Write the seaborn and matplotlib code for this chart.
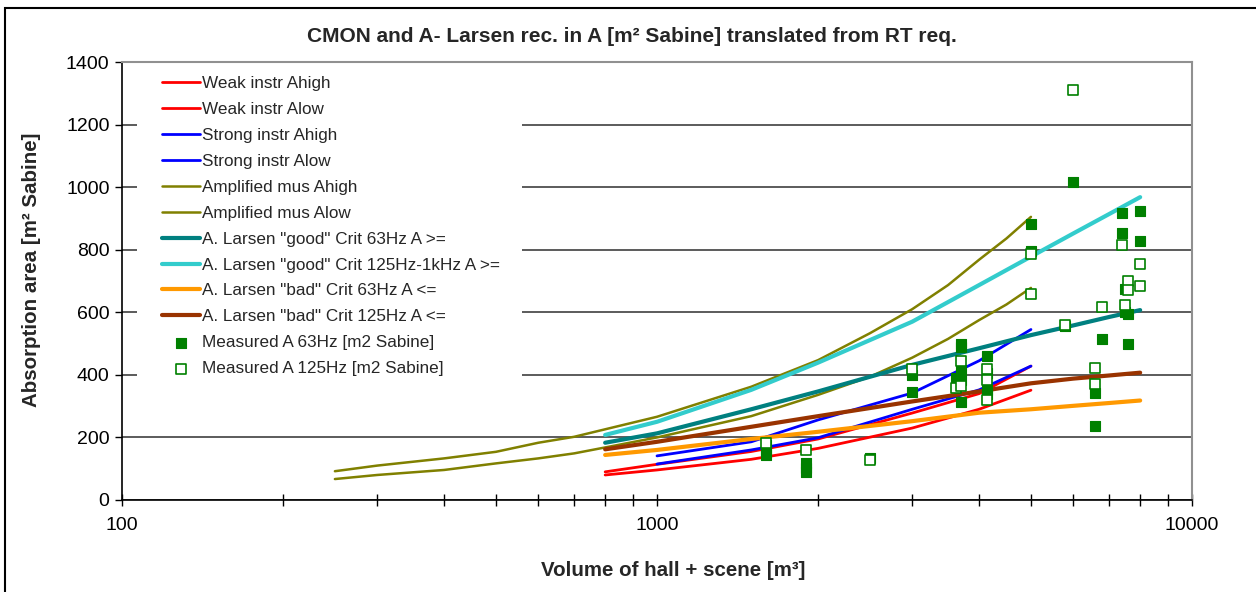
import matplotlib
matplotlib.use("Agg")
import matplotlib.pyplot as plt
import matplotlib.ticker as mticker
import seaborn as sns

# volumes (m3) where the Excel curves have their points
vol_amp = [250, 300, 400, 500, 600, 700, 800, 1000, 1500, 2000, 2500, 3000, 3500, 4000, 4500, 5000]
amp_high = [92, 110, 133, 154, 183, 202, 226, 266, 362, 447, 533, 610, 687, 768, 836, 905]
amp_low = [67, 80, 96, 117, 133, 149, 168, 200, 268, 336, 394, 455, 515, 575, 625, 678]

vol_weak = [800, 1000, 1500, 2000, 3000, 4000, 5000]
weak_high = [90, 114, 155, 195, 278, 340, 428]
weak_low = [80, 96, 130, 165, 230, 290, 351]

vol_strong = [1000, 1500, 2000, 3000, 4000, 5000]
strong_high = [141, 186, 256, 342, 445, 545]
strong_low = [115, 160, 199, 290, 352, 428]

vol_larsen = [800, 1000, 1500, 2000, 3000, 4000, 5000, 6000, 7000, 8000]
good_63 = [183, 213, 290, 347, 432, 485, 527, 558, 585, 607]
good_125 = [208, 250, 352, 439, 570, 687, 778, 852, 914, 968]
bad_63 = [144, 160, 195, 218, 252, 279, 290, 301, 310, 318]
bad_125 = [162, 186, 234, 268, 315, 347, 373, 388, 398, 407]

meas63_vol = [1600, 1600, 1600, 1900, 1900, 1900, 2500, 3000, 3000,
              3620, 3700, 3700, 3700, 3700, 3700, 4130, 4130, 4130, 4130,
              5000, 5000, 5800, 6000, 6600, 6600, 6800, 7400, 7400,
              7500, 7500, 7600, 7600, 8000, 8000]
meas63_val = [176, 160, 145, 118, 103, 90, 133, 400, 345,
              389, 499, 488, 415, 384, 313, 460, 407, 352, 340,
              883, 797, 557, 1015, 341, 237, 514, 918, 852,
              675, 602, 593, 498, 925, 829]

meas125_vol = [1600, 1900, 2500, 3000, 3620, 3700, 3700, 4130, 4130, 4130,
               5000, 5000, 5800, 6000, 6600, 6600, 6800, 7400, 7500,
               7600, 7600, 8000, 8000]
meas125_val = [183, 160, 128, 420, 357, 445, 363, 419, 384, 320,
               785, 660, 560, 1310, 423, 370, 618, 814, 623,
               701, 671, 755, 684]

sns.set_style("white")
plt.rcParams["font.family"] = ["Liberation Sans", "DejaVu Sans"]

fig = plt.figure(figsize=(12.56, 5.92), dpi=100)
ax = fig.add_axes([122 / 1256, 1 - 500 / 592, 1070 / 1256, 438 / 592])

lines = [
    (vol_weak, weak_high, "#FF0000", 2.0, "Weak instr Ahigh"),
    (vol_weak, weak_low, "#FF0000", 2.0, "Weak instr Alow"),
    (vol_strong, strong_high, "#0000FF", 2.0, "Strong instr Ahigh"),
    (vol_strong, strong_low, "#0000FF", 2.0, "Strong instr Alow"),
    (vol_amp, amp_high, "#808000", 1.8, "Amplified mus Ahigh"),
    (vol_amp, amp_low, "#808000", 1.8, "Amplified mus Alow"),
    (vol_larsen, good_63, "#008080", 3.0, 'A. Larsen "good" Crit 63Hz A >='),
    (vol_larsen, good_125, "#33CCCC", 3.0, 'A. Larsen "good" Crit 125Hz-1kHz A >='),
    (vol_larsen, bad_63, "#FF9900", 3.0, 'A. Larsen "bad" Crit 63Hz A <='),
    (vol_larsen, bad_125, "#993300", 3.0, 'A. Larsen "bad" Crit 125Hz A <='),
]
for xs, ys, col, lw, lab in lines:
    sns.lineplot(x=xs, y=ys, color=col, linewidth=lw, label=lab, ax=ax,
                 sort=False, estimator=None, zorder=3)

sns.scatterplot(x=meas63_vol, y=meas63_val, marker="s", s=58, color="#008000",
                edgecolor="#008000", linewidth=0.8, label="Measured A 63Hz [m2 Sabine]",
                ax=ax, zorder=4)
sns.scatterplot(x=meas125_vol, y=meas125_val, marker="s", s=52, color="white",
                edgecolor="#008000", linewidth=1.2, label="Measured A 125Hz [m2 Sabine]",
                ax=ax, zorder=4)

ax.set_xscale("log")
ax.set_xlim(100, 10000)
ax.set_ylim(0, 1400)
ax.set_yticks(range(0, 1401, 200))
ax.xaxis.set_major_formatter(mticker.FuncFormatter(lambda v, _: f"{v:g}"))
ax.xaxis.set_minor_formatter(mticker.NullFormatter())
ax.tick_params(axis="x", which="both", direction="inout", length=8, width=1,
               colors="black", labelsize=14, pad=8, bottom=True)
ax.tick_params(axis="y", direction="out", length=5, width=1, colors="black",
               labelsize=14, pad=4, left=True)
ax.set_xlabel("")
ax.set_ylabel("")

ax.set_axisbelow(True)
ax.yaxis.grid(True, color="#404040", linewidth=1.2)
ax.xaxis.grid(False)
for side in ["left", "bottom"]:
    ax.spines[side].set_color("black")
    ax.spines[side].set_linewidth(1.2)
for side in ["top", "right"]:
    ax.spines[side].set_color("#909090")
    ax.spines[side].set_linewidth(1.5)

# white legend area hiding the gridlines
ax.add_patch(plt.Rectangle((15 / 1070, 120 / 438), 385 / 1070, 314 / 438,
                           transform=ax.transAxes, facecolor="white",
                           edgecolor="none", zorder=1))
leg = ax.legend(loc="upper left", bbox_to_anchor=(40 / 1070, 1 - 14 / 438),
                frameon=False, fontsize=12.3, borderpad=0, borderaxespad=0,
                handlelength=2.25, handletextpad=0.1, labelspacing=0.64,
                scatterpoints=1)

fig.text(632 / 1256, 1 - 37 / 592,
         "CMON and A- Larsen rec. in A [m² Sabine] translated from RT req.",
         ha="center", va="center", fontsize=15, fontweight="bold")
fig.text(32 / 1256, 1 - 270 / 592, "Absorption area [m² Sabine]", rotation=90,
         ha="center", va="center", fontsize=14.8, fontweight="bold")
fig.text(673 / 1256, 1 - 571 / 592, "Volume of hall + scene [m³]",
         ha="center", va="center", fontsize=14.8, fontweight="bold")

fig.patches.append(plt.Rectangle((5 / 1256, -0.1), 1.2, 1.1 - 8 / 592,
                                 transform=fig.transFigure, fill=False,
                                 edgecolor="black", linewidth=1.5, figure=fig))

fig.savefig("out.png", dpi=100, facecolor="white")
